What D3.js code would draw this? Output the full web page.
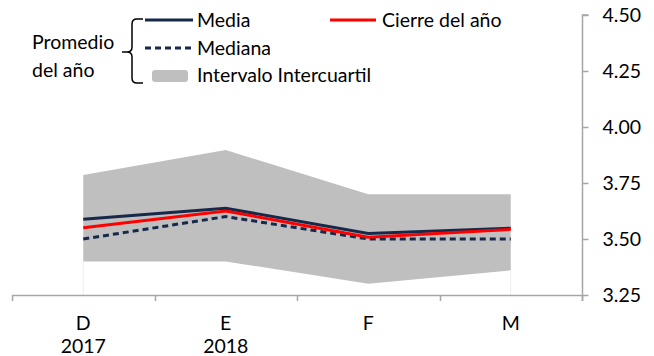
<!DOCTYPE html>
<html>
<head>
<meta charset="utf-8">
<script src="https://cdn.jsdelivr.net/npm/d3@7"></script>
<style>
  html, body { margin: 0; padding: 0; background: #fff; }
  svg text { font-family: Lato, "Open Sans", sans-serif; fill: #000; }
</style>
</head>
<body>
<svg id="chart" width="654" height="356"></svg>
<script>
// Expectativas de inflación: promedio del año y cierre
const months = ["D", "E", "F", "M"];
const years = ["2017", "2018", "", ""];
const media = [3.588, 3.637, 3.525, 3.548];
const mediana = [3.50, 3.60, 3.50, 3.50];
const cierre = [3.55, 3.625, 3.508, 3.543];
const q1 = [3.40, 3.40, 3.30, 3.36];
const q3 = [3.786, 3.897, 3.70, 3.70];
const yTicks = [3.25, 3.50, 3.75, 4.00, 4.25, 4.50];

const svg = d3.select("#chart");
const plotLeft = 12, plotRight = 582, plotTop = 15, plotBottom = 295;
const fs = 19.5;

const x = d3.scaleBand().domain(months).range([plotLeft, plotRight]).padding(0);
const cx = m => x(m) + x.bandwidth() / 2;
const y = d3.scaleLinear().domain([3.25, 4.50]).range([plotBottom, plotTop]);

const axisColor = "#a6a6a6";

// Intervalo intercuartil
const rows = months.map((m, i) => ({ m, i }));
svg.append("path")
  .datum(rows)
  .attr("fill", "#bfbfbf")
  .attr("d", d3.area().x(d => cx(d.m)).y0(d => y(q1[d.i])).y1(d => y(q3[d.i])));

// faint edges of the base area
[0, months.length - 1].forEach(i => {
  svg.append("line")
    .attr("x1", cx(months[i])).attr("x2", cx(months[i]))
    .attr("y1", y(q1[i])).attr("y2", plotBottom)
    .attr("stroke", "#eeeeee").attr("stroke-width", 1);
});

const line = vals => d3.line().x(d => cx(d.m)).y(d => y(vals[d.i]))(rows);

svg.append("path").attr("d", line(mediana)).attr("fill", "none")
  .attr("stroke", "#17294a").attr("stroke-width", 3).attr("stroke-dasharray", "6,4");
svg.append("path").attr("d", line(media)).attr("fill", "none")
  .attr("stroke", "#17294a").attr("stroke-width", 3);
svg.append("path").attr("d", line(cierre)).attr("fill", "none")
  .attr("stroke", "#ff0000").attr("stroke-width", 3);

// Eje X
const xAxisG = svg.append("g");
xAxisG.append("line").attr("x1", plotLeft).attr("x2", plotRight).attr("y1", plotBottom + 0.5).attr("y2", plotBottom + 0.5)
  .attr("stroke", axisColor).attr("stroke-width", 1.5);
const bounds = months.map(m => x(m)).concat([plotRight]);
xAxisG.selectAll("line.tick").data(bounds).join("line")
  .attr("class", "tick")
  .attr("x1", d => Math.round(d) + 0.5).attr("x2", d => Math.round(d) + 0.5)
  .attr("y1", plotBottom).attr("y2", plotBottom + 6)
  .attr("stroke", axisColor).attr("stroke-width", 1.5);
xAxisG.selectAll("text.m").data(months).join("text")
  .attr("class", "m")
  .attr("x", d => cx(d)).attr("y", 323).attr("dy", "0.35em")
  .attr("text-anchor", "middle").attr("font-size", fs).text(d => d);
xAxisG.selectAll("text.yr").data(months).join("text")
  .attr("class", "yr")
  .attr("x", d => cx(d)).attr("y", 346).attr("dy", "0.35em")
  .attr("text-anchor", "middle").attr("font-size", fs).text((d, i) => years[i]);

// Eje Y (derecha)
const yAxis = d3.axisRight(y).tickValues(yTicks).tickFormat(d3.format(".2f")).tickSize(6).tickPadding(14);
const yG = svg.append("g").attr("transform", `translate(${plotRight + 0.5},0)`).call(yAxis);
yG.select(".domain").attr("stroke", axisColor).attr("stroke-width", 1.5).attr("d", `M6,${plotTop}H0V${plotBottom + 6}`);
yG.selectAll(".tick line").attr("stroke", axisColor).attr("stroke-width", 1.5);
yG.selectAll(".tick text").attr("font-size", fs).attr("fill", "#000");

// Leyenda
const lg = svg.append("g");
lg.append("text").attr("x", 32).attr("y", 42).attr("dy", "0.35em").attr("font-size", fs).text("Promedio");
lg.append("text").attr("x", 32).attr("y", 70).attr("dy", "0.35em").attr("font-size", fs).text("del año");
lg.append("path")
  .attr("d", "M143,19 H137 Q132,19 132,24 V47 Q132,52 127,52 H122 M127,52 Q132,52 132,57 V78 Q132,83 137,83 H143")
  .attr("fill", "none").attr("stroke", "#000").attr("stroke-width", 1.5);

lg.append("line").attr("x1", 145).attr("x2", 193).attr("y1", 20).attr("y2", 20)
  .attr("stroke", "#17294a").attr("stroke-width", 3);
lg.append("text").attr("x", 197).attr("y", 20).attr("dy", "0.35em").attr("font-size", fs).text("Media");

lg.append("line").attr("x1", 145).attr("x2", 193).attr("y1", 48).attr("y2", 48)
  .attr("stroke", "#17294a").attr("stroke-width", 3).attr("stroke-dasharray", "6,4");
lg.append("text").attr("x", 197).attr("y", 48).attr("dy", "0.35em").attr("font-size", fs).text("Mediana");

lg.append("rect").attr("x", 152).attr("y", 70).attr("width", 36).attr("height", 12).attr("rx", 3)
  .attr("fill", "#bfbfbf");
lg.append("text").attr("x", 197).attr("y", 75).attr("dy", "0.35em").attr("font-size", fs).text("Intervalo Intercuartil");

lg.append("line").attr("x1", 330).attr("x2", 376).attr("y1", 20).attr("y2", 20)
  .attr("stroke", "#ff0000").attr("stroke-width", 3);
lg.append("text").attr("x", 382).attr("y", 20).attr("dy", "0.35em").attr("font-size", fs).text("Cierre del año");
</script>
</body>
</html>
